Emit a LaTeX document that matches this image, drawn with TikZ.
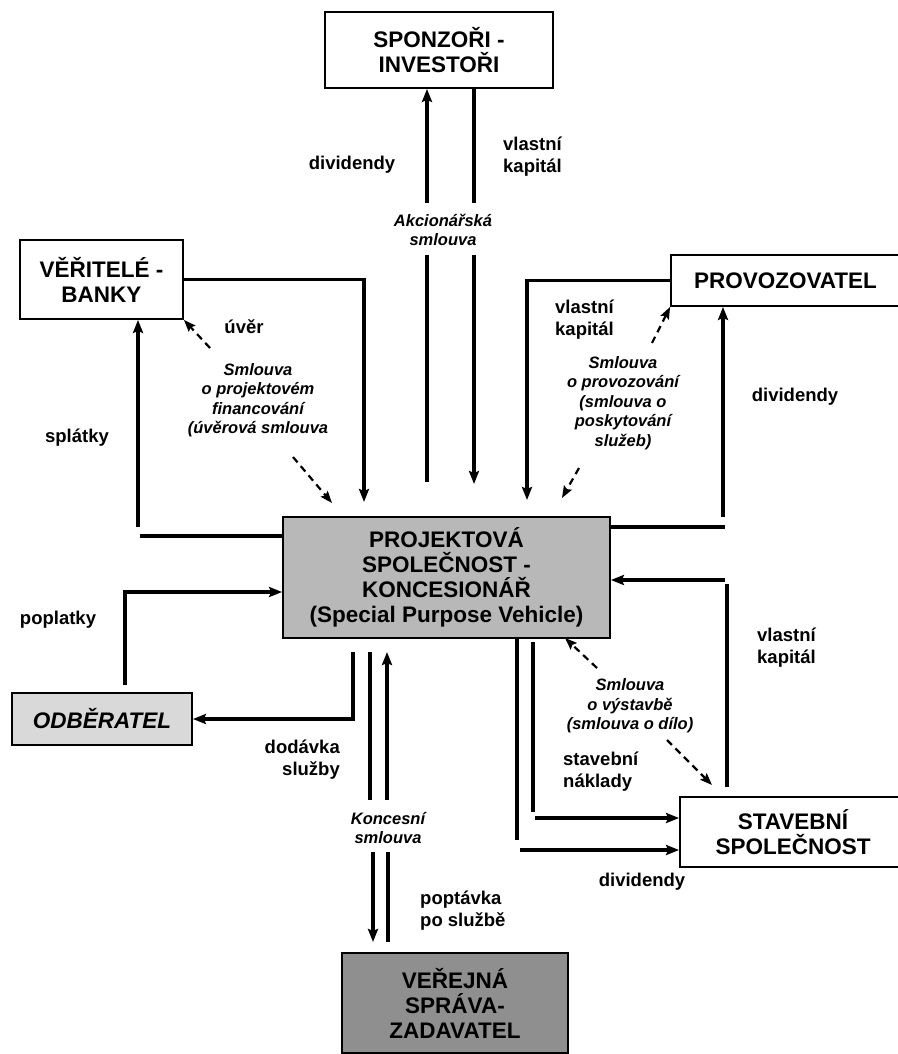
\documentclass[tikz,border=0pt]{standalone}
\usepackage{fontspec}
\setmainfont{Liberation Sans}
\usetikzlibrary{arrows.meta, positioning}
\definecolor{spvGray}{gray}{0.72}
\definecolor{odbGray}{gray}{0.85}
\definecolor{zadGray}{gray}{0.56}
\newcommand{\dgBoxFont}{\fontsize{22.5}{25}\selectfont\bfseries}
\newcommand{\dgLblFont}{\fontsize{18.5}{22}\selectfont\bfseries}
\newcommand{\dgDealFont}{\fontsize{16.5}{19.5}\selectfont\bfseries\itshape}
\tikzset{
    party/.style={draw, line width=1.8pt, align=center, font=\dgBoxFont, inner sep=0pt},
    bar/.style={line width=3.4pt},
    flow/.style={bar, -{Stealth[length=13pt, width=10pt, inset=2pt]}},
    deal/.style={line width=2.2pt, dash pattern=on 7pt off 5pt, -{Stealth[length=12pt, width=9pt, inset=2pt]}},
    lbl/.style={font=\dgLblFont, align=left, inner sep=0pt},
    dealtext/.style={font=\dgDealFont, align=center, inner sep=0pt}
}

\begin{document}
\begin{tikzpicture}[x=1pt, y=-1pt]
    \useasboundingbox (0,0) rectangle (897,1054);

    % parties
    \node[party, minimum width=228, minimum height=76] (spon) at (439,50) {SPONZOŘI -\\INVESTOŘI};
    \node[party, minimum width=163, minimum height=79] (bank) at (101.5,279.5) {VĚŘITELÉ -\\BANKY};
    \node[party, minimum width=229, minimum height=51] (prov) at (785.5,280.5) {PROVOZOVATEL};
    \node[party, fill=spvGray, minimum width=327, minimum height=121] (spv) at (446.5,577.5)
        {PROJEKTOVÁ\\SPOLEČNOST -\\KONCESIONÁŘ\\(Special Purpose Vehicle)};
    \node[party, fill=odbGray, minimum width=180, minimum height=52, font=\dgBoxFont\itshape] (odb) at (102,719) {ODBĚRATEL};
    \node[party, minimum width=226, minimum height=70] (stav) at (793,832) {STAVEBNÍ\\SPOLEČNOST};
    \node[party, fill=zadGray, minimum width=226, minimum height=100] (zad) at (455,1003) {VEŘEJNÁ\\SPRÁVA-\\ZADAVATEL};

    % sponzori
    \coordinate (sd1) at (427,482); \coordinate (sd2) at (427,255); \coordinate (sd3) at (427,203);
    \coordinate (sk1) at (474,203); \coordinate (sk2) at (474,255); \coordinate (sk3) at (474,484);
    \draw[bar] (sd1) -- (sd2);
    \draw[flow] (sd3) -- (sd3 |- spon.south);
    \draw[bar] (sk1 |- spon.south) -- (sk1);
    \draw[flow] (sk2) -- (sk3);
    \node[lbl] (lDivS) at (352,165) {dividendy};
    \node[lbl, anchor=west] (lKapS) at (503,157) {vlastní\\kapitál};
    \node[dealtext] (tAkc) at (443,230) {Akcionářská\\smlouva};

    % banky
    \coordinate (bu) at (364,502);
    \coordinate (bs1) at (140,536); \coordinate (bs2) at (138,527);
    \coordinate (bd1) at (210,348); \coordinate (bd2) at (293,457); \coordinate (bd3) at (332,503);
    \draw[flow] (bank.east) -| (bu);
    \draw[bar] (spv.west |- bs1) -- (bs1);
    \draw[flow] (bs2) -- (bs2 |- bank.south);
    \draw[deal] (bd1) -- (bank.south east);
    \draw[deal] (bd2) -- (bd3);
    \node[lbl] (lUver) at (244,327) {úvěr};
    \node[lbl] (lSplat) at (77,438) {splátky};
    \node[dealtext] (tFin) at (258,400) {Smlouva\\o projektovém\\financování\\(úvěrová smlouva};

    % provozovatel
    \coordinate (pk1) at (527,500);
    \coordinate (pd1) at (725,527); \coordinate (pd2) at (723,517);
    \coordinate (pc1) at (652,343); \coordinate (pc2) at (579,468); \coordinate (pc3) at (562,498);
    \draw[flow] (prov.west) -| (pk1);
    \draw[bar] (spv.east |- pd1) -- (pd1);
    \draw[flow] (pd2) -- (pd2 |- prov.south);
    \draw[deal] (pc1) -- (prov.south west);
    \draw[deal] (pc2) -- (pc3);
    \node[lbl, anchor=west] (lKapP) at (555,320) {vlastní\\kapitál};
    \node[lbl] (lDivP) at (795,397) {dividendy};
    \node[dealtext] (tProv) at (623,403) {Smlouva\\o provozování\\(smlouva o\\poskytování\\služeb)};

    % stavebni spolecnost
    \coordinate (sv1) at (725,580); \coordinate (sv2) at (727,584); \coordinate (sv3) at (727,787);
    \coordinate (sn1) at (533,642); \coordinate (sn2) at (533,812); \coordinate (sn3) at (535,818);
    \coordinate (cd1) at (517,840); \coordinate (cd2) at (520,850);
    \coordinate (sc1) at (597,668); \coordinate (sc2) at (565,638); \coordinate (sc3) at (667,740); \coordinate (sc4) at (712,785);
    \draw[flow] (sv1) -- (sv1 -| spv.east);
    \draw[bar] (sv2) -- (sv3);
    \draw[bar] (sn1) -- (sn2);
    \draw[flow] (sn3) -- (sn3 -| stav.west);
    \draw[bar] (spv.south -| cd1) -- (cd1);
    \draw[flow] (cd2) -- (cd2 -| stav.west);
    \draw[deal] (sc1) -- (sc2);
    \draw[deal] (sc3) -- (sc4);
    \node[lbl, anchor=west] (lKapV) at (757,648) {vlastní\\kapitál};
    \node[lbl, anchor=west] (lNakl) at (563,772) {stavební\\náklady};
    \node[lbl] (lDivV) at (642,882) {dividendy};
    \node[dealtext] (tVyst) at (630,706) {Smlouva\\o výstavbě\\(smlouva o dílo)};

    % odberatel
    \coordinate (op1) at (125,685); \coordinate (op2) at (125,592);
    \coordinate (ds1) at (353,652);
    \draw[flow] (op1) |- (op2 -| spv.west);
    \draw[flow] (ds1) |- (odb.east);
    \node[lbl] (lPopl) at (58,620) {poplatky};
    \node[lbl, anchor=east, align=right] (lDod) at (340,760) {dodávka\\služby};

    % zadavatel
    \coordinate (k1) at (370,652); \coordinate (k2) at (370,800);
    \coordinate (k3) at (387,800); \coordinate (k4) at (387,652);
    \coordinate (k5) at (373,852); \coordinate (k6) at (373,942);
    \coordinate (k7) at (388,852); \coordinate (k8) at (388,942);
    \draw[bar] (k1) -- (k2);
    \draw[flow] (k3) -- (k4);
    \draw[flow] (k5) -- (k6);
    \draw[bar] (k7) -- (k8);
    \node[dealtext] (tKonc) at (388,828) {Koncesní\\smlouva};
    \node[lbl, anchor=west] (lPopt) at (420,911) {poptávka\\po službě};
\end{tikzpicture}
\end{document}
